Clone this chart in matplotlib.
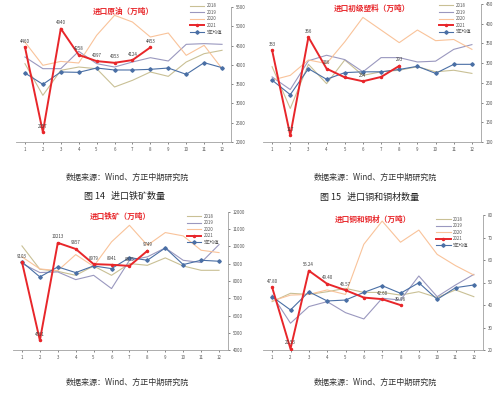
import matplotlib
matplotlib.use("Agg")
import matplotlib.pyplot as plt

plt.rcParams['font.family'] = ['Noto Sans CJK SC', 'DejaVu Sans']
plt.rcParams['axes.unicode_minus'] = False

# --- 数据 ---
months = list(range(1, 12 + 1))
series_names = ['2018', '2019', '2020', '2021', '5年均值']

# 进口原油（万吨）
oil_2018 = [4031, 3210, 3858, 3944, 3901, 3426, 3599, 3815, 3702, 4074, 4290, 4377]
oil_2019 = [4204, 3901, 3901, 4351, 4031, 3944, 4074, 4186, 4100, 4532, 4550, 4532]
oil_2020 = [4590, 3988, 4090, 4048, 4765, 5284, 5111, 4722, 4826, 4247, 4506, 3901]
oil_2021 = [4460, 2257, 4940, 4258, 4097, 4053, 4124, 4453]
oil_avg = [3789, 3495, 3815, 3806, 3918, 3867, 3867, 3884, 3918, 3754, 4057, 3927]

# 进口初级塑料（万吨）
pla_2018 = [291, 185, 297, 248, 308, 269, 278, 282, 291, 278, 282, 274]
pla_2019 = [265, 233, 306, 320, 309, 278, 314, 314, 303, 305, 335, 347]
pla_2020 = [257, 269, 308, 299, 354, 416, 384, 352, 384, 357, 360, 335]
pla_2021 = [333, 117, 366, 286, 264, 254, 265, 293]
pla_avg = [257, 220, 286, 259, 276, 278, 278, 284, 292, 274, 297, 297]

# 进口铁矿（万吨）
ore_2018 = [10034, 8680, 8560, 8330, 8870, 8330, 9010, 8910, 9340, 8870, 8620, 8620]
ore_2019 = [9010, 8490, 8525, 8080, 8330, 7560, 9200, 9400, 9920, 9200, 9070, 10110]
ore_2020 = [9400, 8700, 8600, 9530, 8850, 10270, 11230, 10070, 10808, 10615, 9783, 9647]
ore_2021 = [9103, 4561, 10213, 9857, 8979, 8941, 8875, 9749]
ore_avg = [9106, 8236, 8816, 8487, 8874, 8719, 9357, 9203, 9918, 8951, 9203, 9145]

# 进口铜和铜材（万吨）
cu_2018 = [41.5, 45.2, 44.7, 45.9, 47.4, 45.6, 45.6, 44.4, 45.9, 43.3, 46.7, 43.7]
cu_2019 = [44.4, 31.9, 39.3, 41.5, 36.6, 33.8, 43.0, 42.2, 52.9, 43.7, 48.9, 53.6]
cu_2020 = [41.8, 44.4, 44.7, 46.7, 44.7, 67.0, 77.3, 67.9, 73.3, 62.5, 57.5, 53.3]
cu_2021 = [47.80, 20.53, 55.24, 49.40, 46.57, 43.30, 42.60, 39.96]
cu_avg = [43.7, 37.8, 45.9, 41.8, 42.2, 45.6, 48.6, 45.2, 49.9, 42.5, 47.7, 48.9]

# 标注的点（2021）
oil_lbl = [0, 1, 2, 3, 4, 5, 6, 7]
pla_lbl = [0, 1, 2, 3, 5, 7]
ore_lbl = [0, 1, 2, 3, 4, 5, 6, 7]
cu_lbl = [0, 1, 2, 3, 4, 6, 7]

COLORS = {'2018': '#c9c095', '2019': '#9a98bf', '2020': '#f9c39a',
          '2021': '#e8262a', '5年均值': '#4a6fa5'}

W, H = 500, 394


def px_axes(fig, x0, x1, y0, y1):
    """以像素给出的坐标（左上为原点）创建坐标轴"""
    return fig.add_axes([x0 / W, 1 - y1 / H, (x1 - x0) / W, (y1 - y0) / H])


def draw_panel(fig, rect, title, data, ylim, yticks, fmt, lbl_idx, legend_xy):
    ax = px_axes(fig, *rect)
    for name, vals in zip(series_names, data):
        x = months[:len(vals)]
        if name == '2021':
            ax.plot(x, vals, color=COLORS[name], lw=1.4, zorder=5,
                    marker='o', ms=1.5, label=name)
        elif name == '5年均值':
            ax.plot(x, vals, color=COLORS[name], lw=0.8, zorder=4,
                    marker='D', ms=1.8, label=name)
        else:
            ax.plot(x, vals, color=COLORS[name], lw=0.8, zorder=3, label=name)

    vals21 = data[3]
    for i in lbl_idx:
        ax.annotate(fmt(vals21[i]), (months[i], vals21[i]), xytext=(0, 2.5),
                    textcoords='offset points', ha='center', va='bottom',
                    fontsize=3.2, color='#404040', zorder=6)

    ax.set_xlim(0.5, 12.5)
    ax.set_ylim(*ylim)
    ax.set_xticks(months)
    ax.set_xticklabels([str(m) for m in months])
    ax.yaxis.tick_right()
    ax.set_yticks(yticks)
    ax.set_yticklabels([str(t) for t in yticks])
    ax.tick_params(axis='both', labelsize=3.2, colors='#555555', length=1.5,
                   width=0.5, pad=2)
    for s in ['top', 'left']:
        ax.spines[s].set_visible(False)
    for s in ['bottom', 'right']:
        ax.spines[s].set_color('#a0a0a0')
        ax.spines[s].set_linewidth(0.6)
    ax.set_facecolor('none')

    ax.text(0.5, 1.0, title, transform=ax.transAxes, ha='center', va='top',
            fontsize=5.5, color='#e8262a', fontweight='bold')

    leg = ax.legend(loc='upper left', bbox_to_anchor=legend_xy, fontsize=3.2,
                    frameon=False, handlelength=3.2, handletextpad=0.6,
                    labelspacing=0.35, borderaxespad=0, numpoints=1)
    for t in leg.get_texts():
        t.set_color('#555555')
    return ax


fig = plt.figure(figsize=(5, 3.94), dpi=100)
fig.patch.set_facecolor('white')

draw_panel(fig, (16, 231, 7, 142), '进口原油（万吨）',
           [oil_2018, oil_2019, oil_2020, oil_2021, oil_avg],
           (2000, 5500), list(range(2000, 5501, 500)), lambda v: f'{v:.0f}',
           oil_lbl, (0.80, 1.04))

draw_panel(fig, (263, 481, 4, 142), '进口初级塑料（万吨）',
           [pla_2018, pla_2019, pla_2020, pla_2021, pla_avg],
           (100, 450), list(range(100, 451, 50)), lambda v: f'{v:.0f}',
           pla_lbl, (0.80, 1.02))

draw_panel(fig, (13, 228, 212, 350), '进口铁矿（万吨）',
           [ore_2018, ore_2019, ore_2020, ore_2021, ore_avg],
           (4000, 12000), list(range(4000, 12001, 1000)), lambda v: f'{v:.0f}',
           ore_lbl, (0.80, 1.0))

draw_panel(fig, (263, 483, 215, 350), '进口铜和铜材（万吨）',
           [cu_2018, cu_2019, cu_2020, cu_2021, cu_avg],
           (20, 80), list(range(20, 81, 10)), lambda v: f'{v:.2f}',
           cu_lbl, (0.78, 1.0))

src = '数据来源：Wind、方正中期研究院'
for xc, yc in [(127, 177), (375, 177), (127, 382), (375, 382)]:
    fig.text(xc / W, 1 - yc / H, src, ha='center', va='center', fontsize=5.8,
             style='italic', color='#333333')

fig.text(125 / W, 1 - 197 / H, '图 14   进口铁矿数量', ha='center', va='center',
         fontsize=6.5, color='#222222')
fig.text(370 / W, 1 - 197 / H, '图 15   进口铜和铜材数量', ha='center', va='center',
         fontsize=6.5, color='#222222')

fig.savefig('out.png', dpi=100)
